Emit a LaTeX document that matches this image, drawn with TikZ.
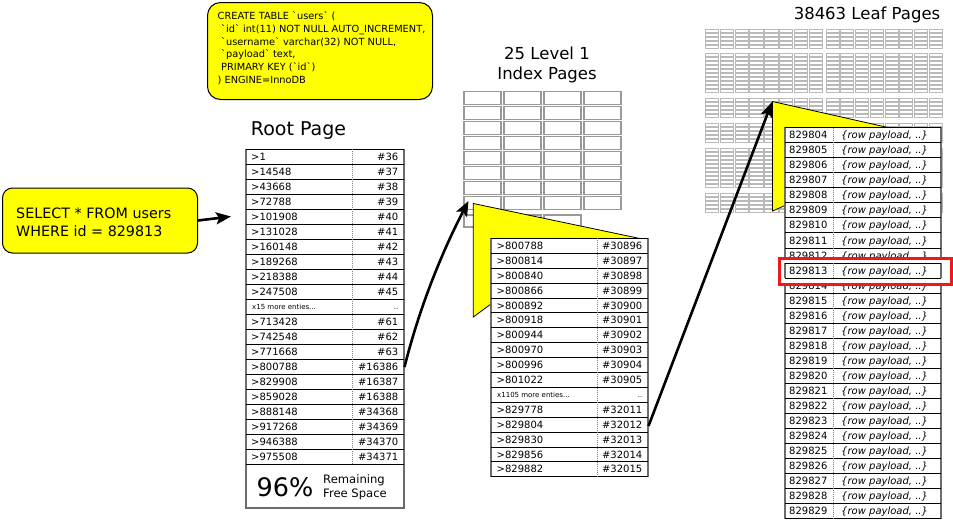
\documentclass[tikz,border=0pt]{standalone}
\usepackage{fontspec}
\newfontfamily\dv{DejaVu Sans}
\usetikzlibrary{arrows.meta}
\definecolor{hl}{HTML}{FFFF00}
\definecolor{hlred}{HTML}{F01818}
\begin{document}
\begin{tikzpicture}[x=1pt,y=-1pt,
  cell/.style={font={\dv\fontsize{10}{12}\selectfont}, inner sep=0pt, text height=7.3pt, text depth=0pt},
  cellsmall/.style={font={\dv\fontsize{7}{8}\selectfont}, inner sep=0pt, text height=5.1pt, text depth=0pt},
  payload/.style={font={\dv\itshape\fontsize{10}{12}\selectfont}, inner sep=0pt, text height=7.3pt, text depth=0pt},
  rowline/.style={draw=black, line width=0.8pt},
  divline/.style={draw=gray, line width=0.6pt, dash pattern=on 1pt off 1pt},
  outerline/.style={draw=gray!85!black, line width=1.2pt},
  title/.style={font={\dv\fontsize{16.5}{20}\selectfont}, inner sep=0pt, align=center},
  callout/.style={fill=hl, draw=black, line width=0.8pt},
  bigarrow/.style={draw=black, line width=2.6pt, -{Stealth[length=15pt,width=12pt,inset=3pt]}},
  lonebox/.style={draw=gray!80, line width=1.1pt, fill=white},
  leafcell/.style={draw=gray!55, line width=0.55pt},
  sqlbox/.style={draw=black, fill=hl, line width=1pt, rounded corners=13pt},
  sqltext/.style={font={\dv\fontsize{9.8}{12.67}\selectfont}, inner sep=0pt, align=left},
  selecttext/.style={font={\dv\fontsize{14.3}{18}\selectfont}, inner sep=0pt, align=left},
  pcttext/.style={font={\dv\fontsize{25.5}{30}\selectfont}, inner sep=0pt},
  freetext/.style={font={\dv\fontsize{11.6}{14}\selectfont}, inner sep=0pt, align=left}
]
\useasboundingbox (0,0) rectangle (953,520);
\fill[white] (0,0) rectangle (953,520);

% ---------- CREATE TABLE box ----------
\node[sqlbox, minimum width=225pt, minimum height=97pt, anchor=north west] (createbox) at (207,2) {};
\node[sqltext, anchor=west] (createtxt) at (217.5,48.3) {CREATE TABLE `users` (\\
\hspace*{3.5pt}`id` int(11) NOT NULL AUTO\_INCREMENT,\\
\hspace*{3.5pt}`username` varchar(32) NOT NULL,\\
\hspace*{3.5pt}`payload` text,\\
\hspace*{3.5pt}PRIMARY KEY (`id`)\\
) ENGINE=InnoDB};

% ---------- SELECT box ----------
\node[sqlbox, rounded corners=10pt, minimum width=195pt, minimum height=65pt, anchor=north west] (selectbox) at (2,187.5) {};
\node[selecttext, anchor=west] (selecttxt) at (16,222) {SELECT * FROM users\\WHERE id = 829813};
\coordinate (rootin) at (231,216.5);
\draw[bigarrow] (selectbox.east) -- (rootin);

% ---------- titles ----------
\node[title, font={\dv\fontsize{19}{22}\selectfont}] (roottitle) at (298.5,131) {Root Page};
\node[title] (lonetitle) at (547,65) {25 Level 1\\Index Pages};
\node[title] (leaftitle) at (867,15) {38463 Leaf Pages};

% ---------- level 1 page grid ----------
\foreach \r in {0,...,7} \foreach \c in {0,...,3}
  \draw[lonebox] ({464+\c*40},{91.7+\r*15}) rectangle ++(37,13);
\foreach \c in {0,1,2}
  \draw[lonebox] ({464+\c*40},215) rectangle ++(37,12);

% ---------- leaf page grid ----------
\foreach \bt/\nr in {29/5,53/10,98/5,123/5,148/10,193/5} {
  \foreach \r in {1,...,\nr} {
    \foreach \c in {0,...,7} {
      \draw[leafcell] ({705+\c*14.9},{\bt+(\r-1)*4}) rectangle ++(13.2,3.2);
      \draw[leafcell] ({826+\c*14.7},{\bt+(\r-1)*4}) rectangle ++(13,3.2);
    }
  }
}

% ---------- root table ----------
\fill[white] (246,149.3) rectangle (404,508);
\draw[outerline] (246,149.3) rectangle (404,508);
\foreach \i in {0,...,21} \draw[rowline] (246,{149.3+\i*15}) -- (404,{149.3+\i*15});
\draw[divline] (352,149.3) -- (352,464.3);
\foreach \k/\v [count=\i from 0] in {>1/\#36,>14548/\#37,>43668/\#38,>72788/\#39,>101908/\#40,>131028/\#41,>160148/\#42,>189268/\#43,>218388/\#44,>247508/\#45} {
  \node[cell, anchor=west] (rk\i) at (251,{149.3+(\i+0.5)*15}) {\k};
  \node[cell, anchor=east] (rv\i) at (398.5,{149.3+(\i+0.5)*15}) {\v};
}
\node[cellsmall, anchor=west] (rkmore) at (252,{149.3+10.5*15}) {x15 more enties...};
\node[cellsmall, anchor=east] (rvmore) at (398.5,{149.3+10.5*15}) {..};
\foreach \k/\v [count=\i from 11] in {>713428/\#61,>742548/\#62,>771668/\#63,>800788/\#16386,>829908/\#16387,>859028/\#16388,>888148/\#34368,>917268/\#34369,>946388/\#34370,>975508/\#34371} {
  \node[cell, anchor=west] (rk\i) at (251,{149.3+(\i+0.5)*15}) {\k};
  \node[cell, anchor=east] (rv\i) at (398.5,{149.3+(\i+0.5)*15}) {\v};
}
\node[pcttext] (pct) at (285,487) {96\%};
\node[freetext, anchor=west] (freetxt) at (323,487.5) {Remaining\\Free Space};

% ---------- level 1 callout + table ----------
\coordinate (loneapex) at (473.3,203.5);
\draw[callout] (loneapex) -- (639,238.3) -- (600,300) -- (491,304) -- (473.3,317) -- cycle;
\fill[white] (491,238.3) rectangle (648,476.7);
\draw[outerline] (491,238.3) rectangle (648,476.7);
\foreach \i in {0,...,16} \draw[rowline] (491,{238.3+\i*14.9}) -- (648,{238.3+\i*14.9});
\draw[divline] (597,238.3) -- (597,476.7);
\foreach \k/\v [count=\i from 0] in {>800788/\#30896,>800814/\#30897,>800840/\#30898,>800866/\#30899,>800892/\#30900,>800918/\#30901,>800944/\#30902,>800970/\#30903,>800996/\#30904,>801022/\#30905} {
  \node[cell, anchor=west] (lk\i) at (496.5,{238.3+(\i+0.5)*14.9}) {\k};
  \node[cell, anchor=east] (lv\i) at (642.5,{238.3+(\i+0.5)*14.9}) {\v};
}
\node[cellsmall, anchor=west] (lkmore) at (497,{238.3+10.5*14.9}) {x1105 more enties...};
\node[cellsmall, anchor=east] (lvmore) at (642.5,{238.3+10.5*14.9}) {..};
\foreach \k/\v [count=\i from 11] in {>829778/\#32011,>829804/\#32012,>829830/\#32013,>829856/\#32014,>829882/\#32015} {
  \node[cell, anchor=west] (lk\i) at (496.5,{238.3+(\i+0.5)*14.9}) {\k};
  \node[cell, anchor=east] (lv\i) at (642.5,{238.3+(\i+0.5)*14.9}) {\v};
}

% ---------- leaf callout + table ----------
\coordinate (leafapex) at (772.5,101.5);
\draw[callout] (leafapex) -- (888,127.5) -- (850,180) -- (785,205.5) -- (772.5,211) -- cycle;
\fill[white] (785,127.5) rectangle (941,518.8);
\draw[outerline] (785,127.5) rectangle (941,518.8);
\foreach \i in {0,...,26} \draw[rowline] (785,{127.5+\i*15.05}) -- (941,{127.5+\i*15.05});
\draw[divline] (833,127.5) -- (833,518.8);
\foreach \i in {0,...,25} {
  \node[cell, anchor=west] (fk\i) at (789,{127.5+(\i+0.5)*15.05}) {\the\numexpr829804+\i\relax};
  \node[payload, anchor=west] (fv\i) at (841,{127.5+(\i+0.5)*15.05}) {\{row payload, ..\}};
}

% ---------- highlight ----------
\draw[hlred, line width=2.5pt, fill=white] (779.3,258.3) rectangle (951.7,284.3);
\draw[outerline] (785,262.95) -- (785,278.0) (941,262.95) -- (941,278.0);
\draw[rowline] (785,262.95) -- (941,262.95) (785,278.0) -- (941,278.0);
\draw[divline] (833,262.95) -- (833,278.0);
\node[cell, anchor=west] (hk) at (789,270.5) {829813};
\node[payload, anchor=west] (hv) at (841,270.5) {\{row payload, ..\}};

% ---------- connectors ----------
\coordinate (rootsrc) at (404.5,367);
\coordinate (lonetip) at (468.5,201);
\draw[bigarrow] (rootsrc) .. controls (419,309) and (441,254) .. (lonetip);
\coordinate (lonesrc) at (648.5,426);
\coordinate (leaftip) at (772,102);
\draw[bigarrow] (lonesrc) -- (leaftip);
\end{tikzpicture}
\end{document}
